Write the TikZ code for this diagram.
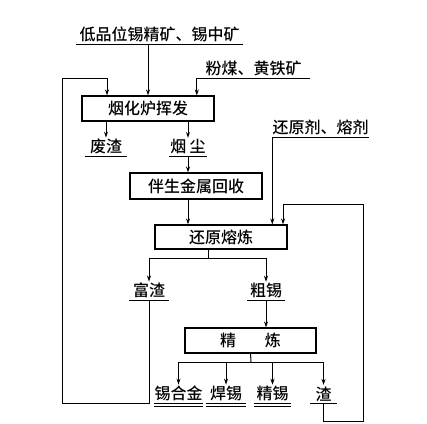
\documentclass[tikz,border=0pt]{standalone}
\usepackage{fontspec}
\setmainfont{Noto Sans CJK SC}[BoldFont={Noto Sans CJK SC Medium}]
\usetikzlibrary{
  positioning,
  arrows.meta,
  calc
}

\begin{document}
\begin{tikzpicture}[
  x=1pt, y=-1pt,
  font=\fontsize{16}{19}\selectfont\bfseries,
  box/.style={draw, line width=1.1pt, minimum height=25pt, minimum width=132pt, inner sep=0pt},
  lbl/.style={anchor=south, inner xsep=0pt, inner ysep=1.5pt},
  arr/.style={-{Stealth[length=6pt, width=4pt]}, line width=1pt},
  ln/.style={line width=1pt}
]
  \useasboundingbox (0,0) rectangle (427,423);

  % process boxes
  \node[box] (fume) at (148,108.5) {烟化炉挥发};
  \node[box, minimum height=26pt] (recov) at (196,186) {伴生金属回收};
  \node[box, minimum height=24pt] (smelt) at (221,237) {还原熔炼};
  \node[box, minimum width=131pt] (refine) at (250.5,340.5) {精\hspace{1.8em}炼};

  % feed and product labels (south = underline)
  \node[lbl, minimum width=167pt] (ore) at (159.5,44) {低品位锡精矿、锡中矿};
  \node[lbl, minimum width=113pt] (coal) at (253.5,78) {粉煤、黄铁矿};
  \node[lbl, minimum width=88pt] (reduc) at (320.5,137) {还原剂、熔剂};
  \node[lbl, minimum width=42pt] (waste) at (106,156) {废渣};
  \node[lbl, minimum width=37pt] (dust) at (188,156) {烟\hspace{0.2em}尘};
  \node[lbl, minimum width=39pt] (rich) at (149,300) {富渣};
  \node[lbl, minimum width=37pt] (crude) at (266,300) {粗锡};
  \node[lbl, minimum width=43pt] (alloy) at (178.5,403) {锡合金};
  \node[lbl, minimum width=40pt] (solder) at (226,403) {焊锡};
  \node[lbl, minimum width=37pt] (pure) at (272.5,403) {精锡};
  \node[lbl, minimum width=26pt] (slag) at (323.5,403) {渣};

  % underlines
  \foreach \n in {ore, coal, reduc, waste, dust, rich, crude, slag}
    \draw[ln] (\n.south west) -- (\n.south east);
  \foreach \n in {alloy, solder, pure} {
    \draw[ln] (\n.south west) -- (\n.south east);
    \draw[ln] ([yshift=-3.5pt]\n.south west) -- ([yshift=-3.5pt]\n.south east);
  }

  % junctions
  \coordinate (sp1) at (208,258);
  \coordinate (sp2) at (251,362);
  \coordinate (loopL) at (62,403);
  \coordinate (loopT) at (107,78);
  \coordinate (loopB) at (363,421);
  \coordinate (loopR) at (283,204);

  % connectors
  \draw[arr] (ore.south -| fume.north) -- (fume.north);
  \draw[arr] (coal.south west) -- (coal.south west |- fume.north);
  \draw[arr] (fume.south -| waste.north) -- (waste.north);
  \draw[arr] (fume.south -| dust.north) -- (dust.north);
  \draw[arr] (dust.south) -- (dust.south |- recov.north);
  \draw[arr] (dust.south |- recov.south) -- (dust.south |- smelt.north);
  \draw[arr] (reduc.south west) -- (reduc.south west |- smelt.north);

  \draw[ln] (sp1 |- smelt.south) -- (sp1);
  \draw[arr] (sp1) -| (rich.north);
  \draw[arr] (sp1) -| (crude.north);
  \draw[arr] (crude.south) -- (crude.south |- refine.north);

  \draw[ln] (refine.south) -- (sp2);
  \foreach \n in {alloy, solder, pure, slag}
    \draw[arr] (sp2) -| (\n.north);

  % recycle loops
  \draw[arr] (rich.south) |- (loopL) |- (loopT) -- (loopT |- fume.north);
  \draw[arr] (slag.south) |- (loopB) |- (loopR) -- (loopR |- smelt.north);
\end{tikzpicture}
\end{document}
